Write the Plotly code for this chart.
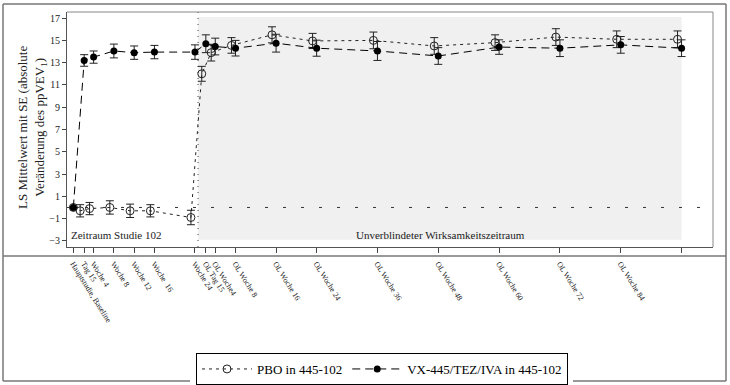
import plotly.graph_objects as go

# ---------------- data ----------------
weeks = [0, 2.14, 4, 8, 12, 16, 24, 26.14, 28, 32, 40, 48, 60, 72, 84, 96, 108, 120]
tick_labels = ["Hauptstudie, Baseline", "Tag 15", "Woche 4", "Woche 8", "Woche 12",
               "Woche  16", "Woche 24", "OL Tag 15", "OL Woche4", "OL Woche 8",
               "OL Woche 16", "OL Woche 24", "OL Woche 36", "OL Woche 48",
               "OL Woche 60", "OL Woche 72", "OL Woche 84", "Verlängerung OL Woche 96"]
pbo_mean = [0, -0.3, -0.1, 0.0, -0.3, -0.3, -0.9, 12.0, 13.9, 14.55, 15.5, 14.95,
            15.0, 14.5, 14.8, 15.3, 15.1, 15.1]
pbo_se = [0, 0.55, 0.55, 0.6, 0.6, 0.55, 0.65, 0.67, 0.75, 0.7, 0.72, 0.68,
          0.75, 0.75, 0.7, 0.75, 0.75, 0.75]
vx_mean = [0, 13.2, 13.5, 14.05, 13.9, 13.95, 13.95, 14.7, 14.45, 14.3, 14.75, 14.3,
           14.05, 13.6, 14.4, 14.3, 14.6, 14.3]
vx_se = [0, 0.52, 0.55, 0.62, 0.6, 0.6, 0.65, 0.8, 0.75, 0.7, 0.8, 0.72,
         0.85, 0.75, 0.65, 0.75, 0.75, 0.75]
y_ticks = [-3, -1, 1, 3, 5, 7, 9, 11, 13, 15, 17]

# ---------------- layout helpers (pixels) ----------------
W, H = 730, 385
L, R, T, B = 67, 713, 12, 247     # plot area in pixels
def px(x):
    return (x - L) / (R - L)
def py(y):
    return (B - y) / (B - T)

FONT = "Liberation Serif, Times New Roman, serif"
DARK = "#222222"
pbo_off = 0.8
pbo_x = [w - pbo_off if w > 0 else w for w in weeks]

fig = go.Figure()

fig.add_trace(go.Scatter(
    x=pbo_x, y=pbo_mean, name="PBO in 445-102", mode="lines+markers",
    line=dict(color=DARK, width=1, dash="3px,4px"),
    marker=dict(symbol="circle-open", size=8, color=DARK, line=dict(width=1, color=DARK)),
    error_y=dict(type="data", array=pbo_se, color=DARK, thickness=1, width=4),
))
fig.add_trace(go.Scatter(
    x=weeks, y=vx_mean, name="VX-445/TEZ/IVA in 445-102", mode="lines+markers",
    line=dict(color="black", width=1, dash="8px,5px"),
    marker=dict(symbol="circle", size=7, color="black"),
    error_y=dict(type="data", array=vx_se, color=DARK, thickness=1, width=4),
))

shapes = [
    # grey shaded open-label period
    dict(type="rect", xref="x", yref="y", x0=24.6, x1=120.0, y0=-2.9, y1=17.1,
         fillcolor="#f0f0f0", line=dict(width=0), layer="below"),
    # zero reference line
    dict(type="line", xref="x", yref="y", x0=-1.25, x1=126.2, y0=0, y1=0,
         line=dict(color="#333", width=1, dash="3px,15px"), layer="above"),
    # vertical period separator
    dict(type="line", xref="x", yref="y", x0=24.6, x1=24.6, y0=-3.55, y1=17.55,
         line=dict(color="#444", width=1, dash="1px,5px"), layer="above"),
    # plot frame (top/right)
    dict(type="line", xref="paper", yref="paper", x0=0, x1=1, y0=1, y1=1,
         line=dict(color="#888", width=1)),
    dict(type="line", xref="paper", yref="paper", x0=1, x1=1, y0=0, y1=1,
         line=dict(color="#888", width=1)),
]
# outer frame
ox0, ox1, oy0, oy1 = 3, 726, 4, 381
frame_col = "#777"
shapes += [
    dict(type="line", xref="paper", yref="paper", x0=px(ox0), x1=px(ox1), y0=py(oy0), y1=py(oy0),
         line=dict(color=frame_col, width=1.5)),
    dict(type="line", xref="paper", yref="paper", x0=px(ox0), x1=px(ox0), y0=py(oy0), y1=py(oy1),
         line=dict(color=frame_col, width=1.5)),
    dict(type="line", xref="paper", yref="paper", x0=px(ox1), x1=px(ox1), y0=py(oy0), y1=py(oy1),
         line=dict(color=frame_col, width=1.5)),
    dict(type="line", xref="paper", yref="paper", x0=px(ox0), x1=px(190), y0=py(oy1), y1=py(oy1),
         line=dict(color=frame_col, width=1.5)),
    dict(type="line", xref="paper", yref="paper", x0=px(573), x1=px(ox1), y0=py(oy1), y1=py(oy1),
         line=dict(color=frame_col, width=1.5)),
    dict(type="line", xref="paper", yref="paper", x0=px(ox0), x1=px(ox1), y0=py(256), y1=py(256),
         line=dict(color=frame_col, width=1.5)),
]

annotations = [
    dict(text="Zeitraum Studie 102", x=8.4, y=-2.5, xref="x", yref="y", showarrow=False,
         xanchor="center", yanchor="middle",
         font=dict(family=FONT, size=11, color=DARK)),
    dict(text="Unverblindeter Wirksamkeitszeitraum", x=72.4, y=-2.5, xref="x", yref="y",
         xanchor="center", yanchor="middle",
         showarrow=False, font=dict(family=FONT, size=11, color=DARK)),
    dict(text="LS Mittelwert mit SE (absolute<br>Veränderung des ppVEV<sub>1</sub>)",
         x=px(32), y=py(128), xref="paper", yref="paper", showarrow=False, textangle=-90,
         xanchor="center", yanchor="middle",
         font=dict(family=FONT, size=13, color=DARK)),
]

fig.update_layout(
    width=W, height=H,
    margin=dict(l=L, r=W - R, t=T, b=H - B, autoexpand=False),
    paper_bgcolor="white", plot_bgcolor="white",
    font=dict(family=FONT, color=DARK),
    shapes=shapes, annotations=annotations,
    showlegend=True,
    legend=dict(orientation="h", x=px(382), y=py(369), xanchor="center", yanchor="middle",
                bordercolor="black", borderwidth=1, bgcolor="white",
                font=dict(family=FONT, size=13, color="black"),
                itemwidth=50, tracegroupgap=0),
)
fig.update_xaxes(
    range=[-1.25, 126.2], tickmode="array", tickvals=weeks, ticktext=tick_labels,
    tickangle=58, ticks="outside", ticklen=5, tickcolor="#444", automargin=False,
    ticklabelstandoff=3,
    showline=True, linecolor="#555", linewidth=1, showgrid=False, zeroline=False,
    tickfont=dict(family=FONT, size=8, color=DARK),
)
fig.update_yaxes(
    range=[-3.55, 17.55], tickmode="array", tickvals=y_ticks, automargin=False,
    ticks="outside", ticklen=4, tickcolor="#444",
    showline=True, linecolor="#555", linewidth=1, showgrid=False, zeroline=False,
    tickfont=dict(family=FONT, size=10, color=DARK),
)

# remove the default page margin so the 730x385 figure fills the window exactly
fig.write_html("out.html", config={"displayModeBar": False},
               post_script="document.body.style.margin='0';")
